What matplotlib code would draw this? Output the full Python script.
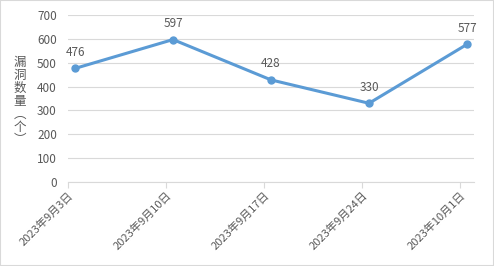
import matplotlib
matplotlib.use('Agg')
import matplotlib.pyplot as plt
from matplotlib.patches import Rectangle

plt.rcParams['font.family'] = ['Noto Sans CJK SC', 'DejaVu Sans']

# dados
datas = ['2023年9月3日', '2023年9月10日', '2023年9月17日', '2023年9月24日', '2023年10月1日']
dias = [0, 7, 14, 21, 28]
vulns = [476, 597, 428, 330, 577]
rotulo_y = '漏洞数量︵个︶'

cinza = '#595959'
azul = '#5B9BD5'

fig = plt.figure(figsize=(4.94, 2.66), dpi=100)
ax = fig.add_axes([68/494, 1-182/266, (474-68)/494, (182-15)/266])

# pontos no meio do dia (eixo de datas estilo Excel)
x = [d + 0.5 for d in dias]
ax.plot(x, vulns, color=azul, lw=2.2, marker='o', ms=5, zorder=3, clip_on=False)
for xi, v in zip(x, vulns):
    ax.annotate(str(v), (xi, v), xytext=(0, 7), textcoords='offset points',
                ha='center', va='bottom', fontsize=8.5, color=cinza)

ax.set_xlim(0, 29)
ax.set_ylim(0, 700)
ax.set_yticks(range(0, 701, 100))
ax.set_xticks(dias)
ax.set_xticklabels(datas, rotation=45, ha='right', rotation_mode='anchor')
ax.tick_params(axis='y', length=0, labelsize=8.5, labelcolor=cinza, pad=8)
ax.tick_params(axis='x', length=4, color='#d9d9d9', labelsize=8, labelcolor=cinza, pad=2)
ax.grid(axis='y', color='#d9d9d9', lw=0.8)
ax.set_axisbelow(True)
for s in ['top', 'right', 'left']:
    ax.spines[s].set_visible(False)
ax.spines['bottom'].set_color('#d9d9d9')
ax.spines['bottom'].set_zorder(1)

# rótulo vertical do eixo y, um caractere por linha
for i, c in enumerate(rotulo_y):
    fig.text(20/494, 1-(62 + i*13)/266, c, ha='center', va='center',
             fontsize=9, color=cinza)

fig.patches.append(Rectangle((0, 0), 1, 1, transform=fig.transFigure, fill=False,
                             edgecolor='#d9d9d9', lw=1.5))

fig.savefig('out.png', dpi=100)
